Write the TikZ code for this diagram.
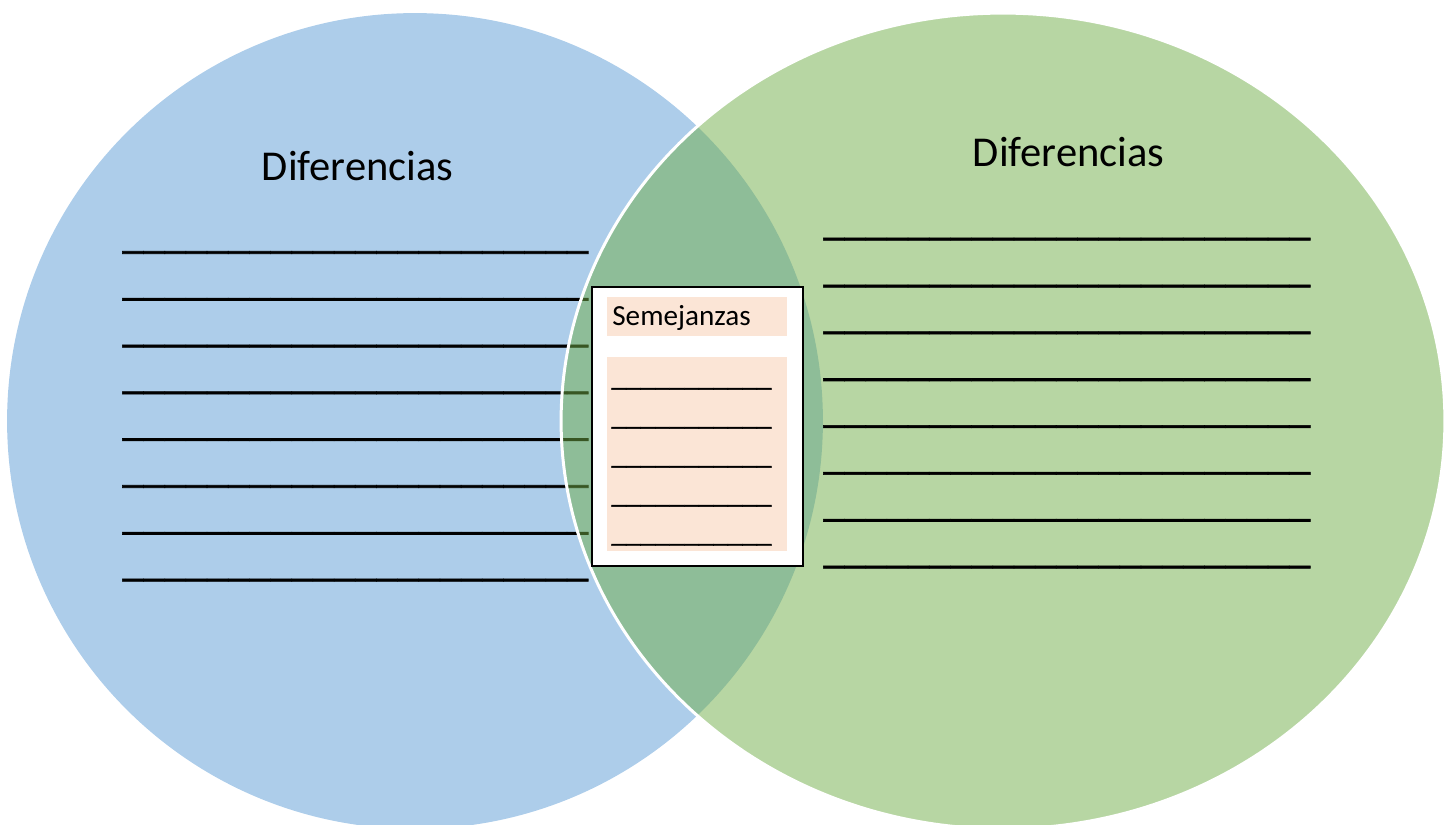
\documentclass[tikz,border=0pt]{standalone}
\usepackage{fontspec}
\setmainfont{Carlito}
\newfontfamily\rayafont[FakeBold=1.5]{Carlito}
\definecolor{azul}{HTML}{5B9BD5}
\definecolor{verde}{HTML}{70AD47}
\definecolor{rosa}{HTML}{FBE5D6}
\tikzset{
  titulo/.style={anchor=base west, inner sep=0pt, font=\fontsize{24.2}{29}\selectfont},
  raya/.style={anchor=base west, inner sep=0pt, font=\rayafont\fontsize{24.2}{29}\selectfont},
  rayita/.style={anchor=base west, inner sep=0pt, font=\rayafont\fontsize{16.6}{20}\selectfont},
  textito/.style={anchor=base west, inner sep=0pt, font=\fontsize{16.6}{20}\selectfont},
  caja/.style={draw=black, line width=1.1pt, fill=white, inner sep=0pt},
  fondo/.style={fill=rosa, inner sep=0pt, minimum width=3.6cm},
}
\begin{document}
\begin{tikzpicture}[x=0.02cm, y=-0.02cm]
	\useasboundingbox (0,0) rectangle (1451,825);
	\coordinate (CI) at (415,421);
	\coordinate (CD) at (1003,421);
	% circulo izquierdo
	\fill[azul, fill opacity=.5] (CI) ellipse [x radius=8.16cm, y radius=8.16cm];
	\node[titulo] (difI) at (261.5,180) {Diferencias};
	\foreach \i in {0,...,7}
		\node[raya] (lineaI\i) at (122,{248+46.8*\i}) {\_\_\_\_\_\_\_\_\_\_\_\_\_\_\_\_\_\_\_\_\_\_};
	% circulo derecho
	\path[fill=verde, fill opacity=.5, draw=white, line width=1.7pt] (CD) ellipse [x radius=8.84cm, y radius=8.16cm];
	\node[titulo] (difD) at (972.5,166) {Diferencias};
	\foreach \i in {0,...,7}
		\node[raya] (lineaD\i) at (823,{234.7+46.85*\i}) {\_\_\_\_\_\_\_\_\_\_\_\_\_\_\_\_\_\_\_\_\_\_\_};
	% semejanzas
	\node[caja, minimum width=4.22cm, minimum height=5.58cm] (sem) at (697.2,426.2) {};
	\node[fondo, minimum height=0.78cm] (semT) at (697,316.2) {};
	\node[fondo, minimum height=3.874cm] (semB) at (697,453.8) {};
	\node[textito] (semTxt) at (612,325) {Semejanzas};
	\foreach \i in {0,...,4}
		\node[rayita] (lineaS\i) at (611.3,{385.8+39*\i}) {\_\_\_\_\_\_\_\_\_\_\_};
\end{tikzpicture}
\end{document}
